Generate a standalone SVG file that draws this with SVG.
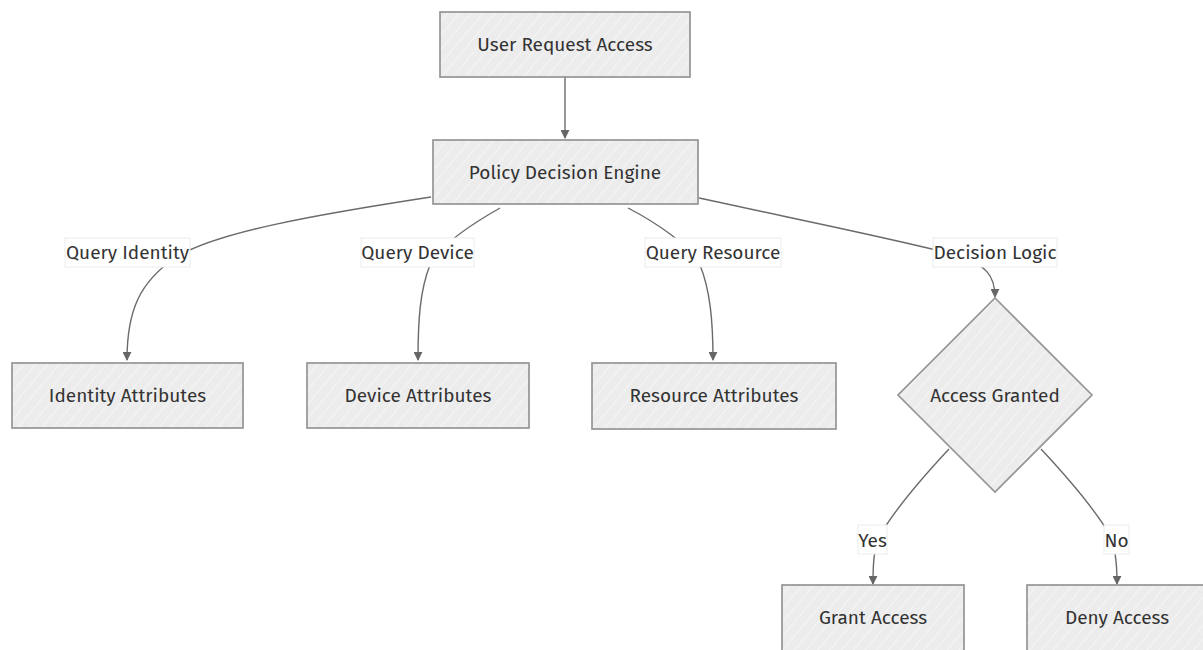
<svg xmlns="http://www.w3.org/2000/svg" width="1203" height="650" viewBox="0 0 1203 650">
  <style>
    .node-shape { fill: url(#hatch); stroke: #959595; stroke-width: 1.7; }
    .node-text { font-family: "Fira Sans", "Noto Sans", "Open Sans", sans-serif; font-size: 19px; fill: #333; text-anchor: middle; dominant-baseline: central; }
    .edge { fill: none; stroke: #6a6a6a; stroke-width: 1.4; }
    .edge-label-bg { fill: #ffffff; stroke: #ececec; stroke-width: 1; }
    .edge-label { font-family: "Fira Sans", "Noto Sans", "Open Sans", sans-serif; font-size: 19px; fill: #333; text-anchor: middle; dominant-baseline: central; }
  </style>
  <defs>
    <pattern id="hatch" patternUnits="userSpaceOnUse" width="9" height="9" patternTransform="rotate(40)">
      <rect width="9" height="9" fill="#ececec"/>
      <line x1="0" y1="0" x2="0" y2="9" stroke="#f9f9f9" stroke-width="1.4"/>
    </pattern>
    <marker id="arrow" viewBox="0 0 10 10" refX="9" refY="5" markerWidth="9" markerHeight="9" markerUnits="userSpaceOnUse" orient="auto">
      <path d="M0,0 L10,5 L0,10 z" fill="#666"/>
    </marker>
  </defs>

  <rect width="1203" height="650" fill="#ffffff"/>

  <!-- connectors -->
  <g id="edges">
    <path class="edge" d="M565,77 L565,138" marker-end="url(#arrow)"/>
    <path class="edge" d="M431,197 C320,214 215,232 175,258 C140,282 127,310 127,360" marker-end="url(#arrow)"/>
    <path class="edge" d="M500,208 C470,225 440,245 430,265 C420,290 418,320 418,360" marker-end="url(#arrow)"/>
    <path class="edge" d="M628,208 C655,222 690,245 700,265 C710,290 713,320 713,360" marker-end="url(#arrow)"/>
    <path class="edge" d="M699,198 C800,220 900,240 960,256 C985,265 995,275 995,297" marker-end="url(#arrow)"/>
    <path class="edge" d="M949,449 C920,480 895,510 880,535 C874,550 873,560 873,584" marker-end="url(#arrow)"/>
    <path class="edge" d="M1041,449 C1070,480 1095,510 1110,535 C1115,550 1117,560 1117,584" marker-end="url(#arrow)"/>
  </g>

  <!-- edge labels -->
  <g id="edge-labels">
    <rect class="edge-label-bg" x="65" y="238" width="125" height="29"/>
    <text class="edge-label" x="127.5" y="252">Query Identity</text>
    <rect class="edge-label-bg" x="361" y="238" width="113" height="29"/>
    <text class="edge-label" x="417.5" y="252">Query Device</text>
    <rect class="edge-label-bg" x="645" y="238" width="136" height="29"/>
    <text class="edge-label" x="713" y="252">Query Resource</text>
    <rect class="edge-label-bg" x="933" y="238" width="124" height="29"/>
    <text class="edge-label" x="995" y="252">Decision Logic</text>
    <rect class="edge-label-bg" x="858" y="525" width="29" height="29"/>
    <text class="edge-label" x="872.5" y="540">Yes</text>
    <rect class="edge-label-bg" x="1104" y="525" width="25" height="29"/>
    <text class="edge-label" x="1116.5" y="540">No</text>
  </g>

  <!-- nodes -->
  <g id="user-request">
    <rect class="node-shape" x="440" y="12" width="250" height="65"/>
    <text class="node-text" x="565" y="44">User Request Access</text>
  </g>
  <g id="policy-engine">
    <rect class="node-shape" x="433" y="140" width="265" height="64"/>
    <text class="node-text" x="565" y="172">Policy Decision Engine</text>
  </g>
  <g id="identity-attrs">
    <rect class="node-shape" x="12" y="363" width="231" height="65"/>
    <text class="node-text" x="127.5" y="395">Identity Attributes</text>
  </g>
  <g id="device-attrs">
    <rect class="node-shape" x="307" y="363" width="222" height="65"/>
    <text class="node-text" x="418" y="395">Device Attributes</text>
  </g>
  <g id="resource-attrs">
    <rect class="node-shape" x="592" y="363" width="244" height="66"/>
    <text class="node-text" x="714" y="395">Resource Attributes</text>
  </g>
  <g id="access-granted">
    <polygon class="node-shape" points="995,298 1092,395 995,492 898,395"/>
    <text class="node-text" x="995" y="395">Access Granted</text>
  </g>
  <g id="grant-access">
    <rect class="node-shape" x="782" y="585" width="182" height="70"/>
    <text class="node-text" x="873" y="617">Grant Access</text>
  </g>
  <g id="deny-access">
    <rect class="node-shape" x="1027" y="585" width="182" height="70"/>
    <text class="node-text" x="1117" y="617">Deny Access</text>
  </g>
</svg>
